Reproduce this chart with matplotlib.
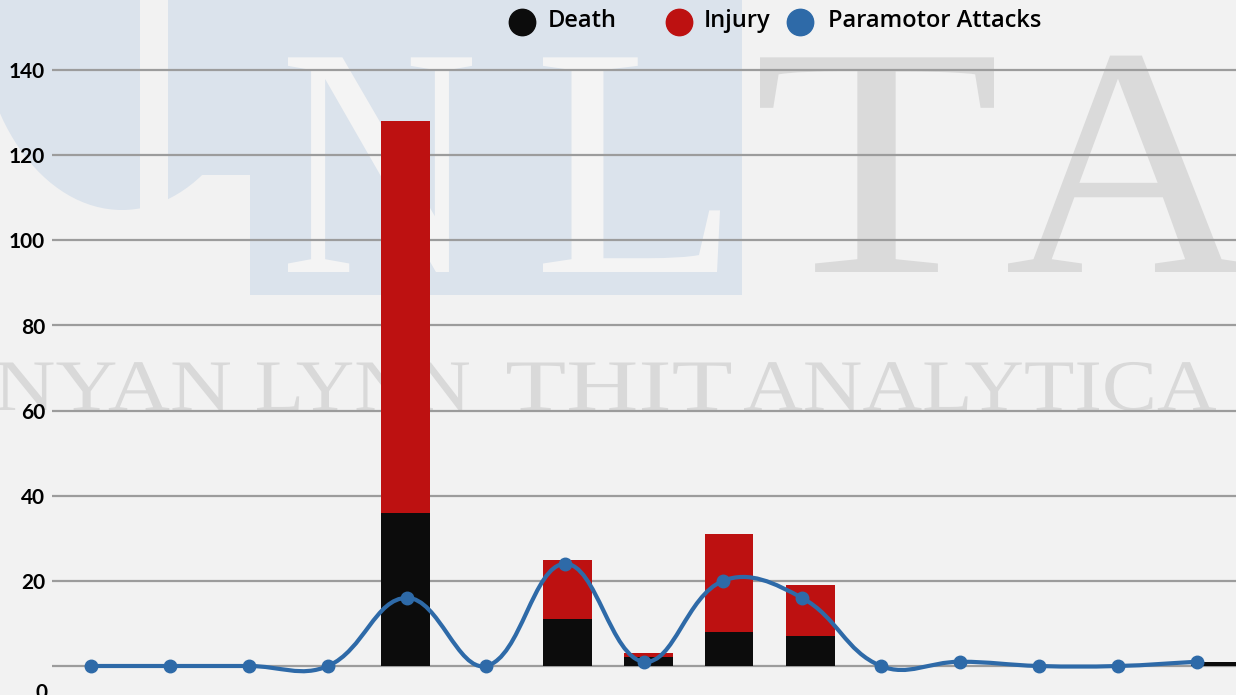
import numpy as np
import matplotlib
matplotlib.use("Agg")
import matplotlib.pyplot as plt
from matplotlib.path import Path
from matplotlib.patches import PathPatch, Rectangle, Ellipse
from matplotlib.lines import Line2D
from matplotlib.textpath import TextPath
from matplotlib.font_manager import FontProperties
import matplotlib.transforms as mtransforms

# data (15 periods)
periods = list(range(15))
deaths = [0, 0, 0, 0, 36, 0, 11, 2, 8, 7, 0, 0, 0, 0, 1]
injuries = [0, 0, 0, 0, 92, 0, 14, 1, 23, 12, 0, 0, 0, 0, 0]
attacks = [0, 0, 0, 0, 16, 0, 24, 1, 20, 16, 0, 1, 0, 0, 1]
yticks = [0, 20, 40, 60, 80, 100, 120, 140]

W, H = 1236, 695
BG = "#f2f2f2"
BLACK = "#0c0c0c"
RED = "#bd1111"
BLUE = "#2e6aa8"
GRID = "#9c9c9c"
FONT = "Lato"
LEG_FONT = "Open Sans"


def fx(px):
    return px / W


def fy(py):
    return 1 - py / H


fig = plt.figure(figsize=(W / 100, H / 100), dpi=100, facecolor=BG)

# --- watermark (behind the axes) ---
wm_blue = "#dbe3ec"
fig.patches.append(Ellipse((fx(122), fy(0)), 290 / W, 420 / H, transform=fig.transFigure,
                           facecolor=wm_blue, edgecolor="none", zorder=-3))
fig.patches.append(Rectangle((fx(168), fy(175)), 82 / W, 175 / H, transform=fig.transFigure,
                             facecolor=wm_blue, edgecolor="none", zorder=-3))
fig.patches.append(Rectangle((fx(140), fy(212)), 28 / W, 212 / H, transform=fig.transFigure,
                             facecolor=BG, edgecolor="none", zorder=-2.5))
fig.patches.append(Rectangle((fx(250), fy(295)), 492 / W, 295 / H, transform=fig.transFigure,
                             facecolor=wm_blue, edgecolor="none", zorder=-3))

serif = FontProperties(family="Liberation Serif")


def wm_word(word, x0, x1, base, cap, color):
    # stretched serif word placed in pixel space (origin top-left)
    tp = TextPath((0, 0), word, size=cap / 0.662, prop=serif)
    ext = tp.get_extents()
    kx = (x1 - x0) / ext.width
    tr = mtransforms.Affine2D().translate(-ext.x0, 0).scale(kx, 1).translate(x0, H - base)
    fig.patches.append(PathPatch(tp, transform=tr, facecolor=color, edgecolor="none", zorder=-2))


for letter, x0, x1, col in [("N", 288, 472, "#f4f4f4"), ("L", 543, 720, "#f4f4f4"),
                            ("T", 760, 994, "#dadada"), ("A", 1008, 1250, "#dadada")]:
    wm_word(letter, x0, x1, 272, 217, col)
for word, x0, x1 in [("NYAN", -4, 230), ("LYNN", 257, 469), ("THIT", 507, 731), ("ANALYTICA", 744, 1216)]:
    wm_word(word, x0, x1, 410, 48, "#d9d9d9")

# --- axes covering the whole figure ---
ax = fig.add_axes([0, 0, 1, 1])
ax.set_facecolor("none")
ax.axis("off")
px_per_unit = 596 / 140
ax.set_ylim(-(H - 666) / px_per_unit, 666 / px_per_unit)
ax.set_xlim(-1.0, (W - 81) / 81)

# gridlines + y labels
lbl_tr = mtransforms.blended_transform_factory(ax.transAxes, ax.transData)
for v in yticks:
    ax.plot([52 / W, 1], [v, v], transform=lbl_tr,
            color=GRID, lw=1.6, zorder=1, solid_capstyle="butt")
for v in yticks:
    if v == 0:
        ax.text(48 / W, -4, "0", transform=lbl_tr, ha="right", va="top",
                fontsize=15, family=FONT, fontweight="bold", color="black")
    else:
        ax.text(45 / W, v - 0.5, str(v), transform=lbl_tr, ha="right", va="center",
                fontsize=15, family=FONT, fontweight="bold", color="black")

# stacked bars
bw = 49 / 81
ax.bar(periods, deaths, width=bw, color=BLACK, zorder=2)
ax.bar(periods, injuries, width=bw, bottom=deaths, color=RED, zorder=2)

# line on its own x scale (points are spaced slightly tighter than bars)
ax2 = ax.twiny()
ax2.set_facecolor("none")
ax2.axis("off")
ax2.set_xlim(-91 / 79, (W - 91) / 79)
ax2.set_ylim(ax.get_ylim())

# chart.js-like bezier curve (tension 0.4), distances in pixel space
xs = np.array(periods, dtype=float)
ys = np.array(attacks, dtype=float)
sx, sy = 79.0, px_per_unit
t = 0.4
n = len(xs)
cp_prev = np.zeros((n, 2))
cp_next = np.zeros((n, 2))
for i in range(n):
    f = i - 1 if i > 0 else i
    a = i + 1 if i < n - 1 else i
    d01 = np.hypot((xs[i] - xs[f]) * sx, (ys[i] - ys[f]) * sy)
    d12 = np.hypot((xs[a] - xs[i]) * sx, (ys[a] - ys[i]) * sy)
    tot = d01 + d12
    s01 = d01 / tot if tot else 0
    s12 = d12 / tot if tot else 0
    fa, fb = t * s01, t * s12
    cp_prev[i] = [xs[i] - fa * (xs[a] - xs[f]), ys[i] - fa * (ys[a] - ys[f])]
    cp_next[i] = [xs[i] + fb * (xs[a] - xs[f]), ys[i] + fb * (ys[a] - ys[f])]
verts = [(xs[0], ys[0])]
codes = [Path.MOVETO]
for i in range(n - 1):
    verts += [tuple(cp_next[i]), tuple(cp_prev[i + 1]), (xs[i + 1], ys[i + 1])]
    codes += [Path.CURVE4] * 3
ax2.add_patch(PathPatch(Path(verts, codes), facecolor="none", edgecolor=BLUE, lw=3, zorder=3))
ax2.plot(periods, attacks, "o", color=BLUE, ms=9, zorder=4, clip_on=False)

# legend at top
items = [(522, "Death", BLACK, 548), (679, "Injury", RED, 704), (800, "Paramotor Attacks", BLUE, 828)]
for cx, name, col, tx in items:
    fig.add_artist(Line2D([fx(cx)], [fy(22)], marker="o", ms=19, color=col, transform=fig.transFigure))
    fig.text(fx(tx), fy(21), name, fontsize=17, family=LEG_FONT, fontweight="semibold",
             ha="left", va="center", color="black")

fig.savefig("out.png", dpi=100, facecolor=BG)
